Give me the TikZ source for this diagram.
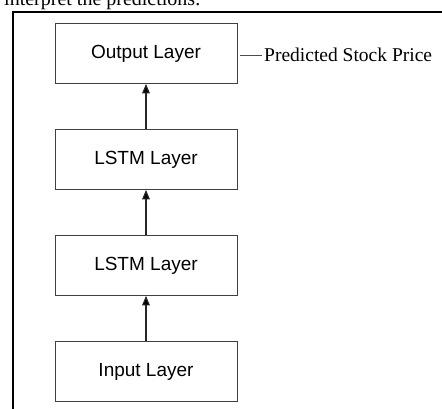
\documentclass[tikz,border=0pt]{standalone}
\usepackage{fontspec}
\setmainfont{Liberation Serif}
\setsansfont{Liberation Sans}
\usetikzlibrary{arrows,positioning}

\begin{document}
\begin{tikzpicture}[x=1pt,y=1pt,>=triangle 45,node distance=106pt,on grid,auto,
    layer/.style={draw=black!75,line width=0.9pt,minimum width=182pt,
      minimum height=60pt,font=\sffamily\fontsize{19}{22}\selectfont},
    flow/.style={->,draw=black!85,line width=1.2pt}]
  \useasboundingbox (0,0) rectangle (442,-408);
  \clip (0,0) rectangle (442,-408);
  % cut-off caption line above the figure
  \node[anchor=base west,inner sep=0pt,font=\fontsize{20}{24}\selectfont] (caption) at (4,-5.5) {interpret the predictions.};
  \draw[line width=1.8pt] (13,-410) -- (13,-12) -- (444,-12);

  \node[layer] (output) at (146,-53.5) {Output Layer};
  \node[layer] [below=of output] (lstmb) {LSTM Layer};
  \node[layer] [below=of lstmb] (lstma) {LSTM Layer};
  \node[layer] [below=of lstma] (input) {Input Layer};
  \node[anchor=west,inner sep=2pt,font=\fontsize{19.5}{23}\selectfont] (pred) at (262,-55) {Predicted Stock Price};

  \path[flow]
    (input) edge (lstma)
    (lstma) edge (lstmb)
    (lstmb) edge (output);
  \draw[black!70,line width=0.7pt] ([xshift=3pt]output.east |- pred.west) -- (pred.west);
\end{tikzpicture}
\end{document}
